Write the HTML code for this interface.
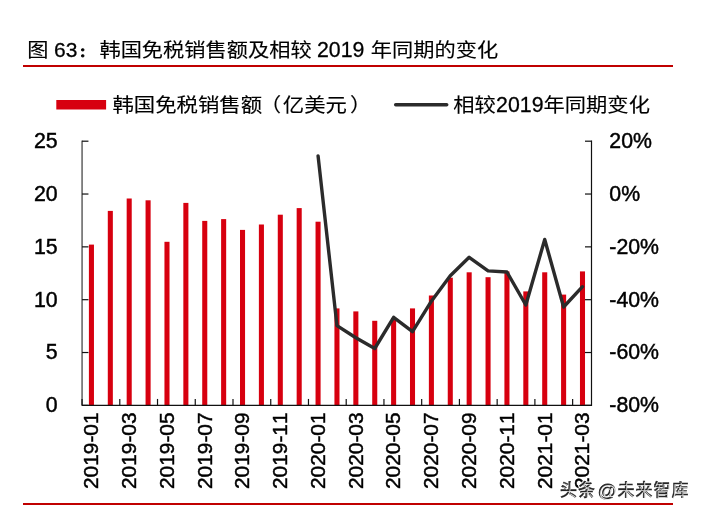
<!DOCTYPE html>
<html lang="zh"><head><meta charset="utf-8"><title>图 63</title>
<style>
html,body{margin:0;padding:0;background:#fff;}
body{width:702px;height:513px;overflow:hidden;position:relative;font-family:"Liberation Sans","Noto Sans CJK SC",sans-serif;color:#000;}
svg{position:absolute;left:0;top:0;display:block;}
text{font-family:"Liberation Sans","Noto Sans CJK SC",sans-serif;fill:#000;font-kerning:none;}
.num{stroke:#000;stroke-width:0.45px;}
.num2{stroke:#000;stroke-width:0.28px;}
.cjk{stroke:#000;stroke-width:0.15px;}
</style></head><body>
<svg width="702" height="513" viewBox="0 0 702 513">
<rect width="702" height="513" fill="#fff"/>
<text class="cjk" transform="translate(27.2,57.2) scale(1,0.9)" font-size="21.25">图</text>
<text class="num2" x="54.0" y="56.5" font-size="21.0">63</text>
<text transform="translate(79.3,57.4) scale(1,0.88)" font-size="14" font-weight="700" stroke="#000" stroke-width="0.9">：</text>
<text class="cjk" transform="translate(99.4,57.2) scale(1,0.9)" font-size="21.25">韩国免税销售额及相较</text>
<text class="num2" x="317.0" y="56.5" font-size="21.3">2019</text>
<text class="cjk" transform="translate(370.7,57.2) scale(1,0.9)" font-size="21.25">年同期的变化</text>
<rect x="23" y="65" width="650" height="2" fill="#c00000"/>
<rect x="23" y="503" width="650" height="2" fill="#c00000"/>
<rect x="56.3" y="100" width="49.8" height="9.5" fill="#d7000f"/>
<text class="cjk" transform="translate(112.4,112.3) scale(1,0.9)" font-size="21.4">韩国免税销售额<tspan dx="-2.4">（</tspan><tspan dx="1.7">亿美元</tspan><tspan dx="3.0">）</tspan></text>
<line x1="395.7" y1="104.65" x2="446.7" y2="104.65" stroke="#2b2b2b" stroke-width="3.5" stroke-linecap="round"/>
<text class="cjk" transform="translate(453.3,112.3) scale(1,0.9)" font-size="21.3">相较</text>
<text class="num2" x="496.1" y="112.4" font-size="21.3">2019</text>
<text class="cjk" transform="translate(543.5,112.3) scale(1,0.9)" font-size="21.3">年同期变化</text>
<g fill="#d7000f">
<rect x="88.90" y="244.6" width="5.06" height="160.8"/>
<rect x="107.79" y="210.9" width="5.06" height="194.5"/>
<rect x="126.67" y="198.5" width="5.06" height="206.9"/>
<rect x="145.56" y="200.3" width="5.06" height="205.1"/>
<rect x="164.45" y="241.8" width="5.06" height="163.6"/>
<rect x="183.34" y="202.9" width="5.06" height="202.5"/>
<rect x="202.22" y="220.9" width="5.06" height="184.5"/>
<rect x="221.11" y="219.1" width="5.06" height="186.3"/>
<rect x="240.00" y="229.9" width="5.06" height="175.5"/>
<rect x="258.88" y="224.5" width="5.06" height="180.9"/>
<rect x="277.77" y="214.7" width="5.06" height="190.7"/>
<rect x="296.66" y="208.1" width="5.06" height="197.3"/>
<rect x="315.54" y="221.7" width="5.06" height="183.7"/>
<rect x="334.43" y="308.4" width="5.06" height="97.0"/>
<rect x="353.32" y="311.4" width="5.06" height="94.0"/>
<rect x="372.21" y="320.8" width="5.06" height="84.6"/>
<rect x="391.09" y="318.0" width="5.06" height="87.4"/>
<rect x="409.98" y="308.4" width="5.06" height="97.0"/>
<rect x="428.87" y="295.5" width="5.06" height="109.9"/>
<rect x="447.75" y="277.7" width="5.06" height="127.7"/>
<rect x="466.64" y="272.3" width="5.06" height="133.1"/>
<rect x="485.53" y="277.2" width="5.06" height="128.2"/>
<rect x="504.41" y="271.5" width="5.06" height="133.9"/>
<rect x="523.30" y="291.4" width="5.06" height="114.0"/>
<rect x="542.19" y="272.3" width="5.06" height="133.1"/>
<rect x="561.08" y="294.6" width="5.06" height="110.8"/>
<rect x="579.96" y="271.4" width="5.06" height="134.0"/>
</g>
<g stroke="#111" stroke-width="1.2" fill="none">
<line x1="82.05" y1="140.6" x2="82.05" y2="405.95000000000005" stroke-width="1.0"/>
<line x1="591.5" y1="140.6" x2="591.5" y2="405.95000000000005"/>
<line x1="82.05" y1="405.35" x2="591.5" y2="405.35"/>
<line x1="82.05" y1="405.35" x2="88.45" y2="405.35"/>
<line x1="585.0" y1="405.35" x2="591.5" y2="405.35"/>
<line x1="82.05" y1="352.52" x2="88.45" y2="352.52"/>
<line x1="585.0" y1="352.52" x2="591.5" y2="352.52"/>
<line x1="82.05" y1="299.69" x2="88.45" y2="299.69"/>
<line x1="585.0" y1="299.69" x2="591.5" y2="299.69"/>
<line x1="82.05" y1="246.86" x2="88.45" y2="246.86"/>
<line x1="585.0" y1="246.86" x2="591.5" y2="246.86"/>
<line x1="82.05" y1="194.03" x2="88.45" y2="194.03"/>
<line x1="585.0" y1="194.03" x2="591.5" y2="194.03"/>
<line x1="82.05" y1="141.20" x2="88.45" y2="141.20"/>
<line x1="585.0" y1="141.20" x2="591.5" y2="141.20"/>
<line x1="82.05" y1="398.95000000000005" x2="82.05" y2="405.35"/>
<line x1="119.79" y1="398.95000000000005" x2="119.79" y2="405.35"/>
<line x1="157.52" y1="398.95000000000005" x2="157.52" y2="405.35"/>
<line x1="195.26" y1="398.95000000000005" x2="195.26" y2="405.35"/>
<line x1="233.00" y1="398.95000000000005" x2="233.00" y2="405.35"/>
<line x1="270.74" y1="398.95000000000005" x2="270.74" y2="405.35"/>
<line x1="308.47" y1="398.95000000000005" x2="308.47" y2="405.35"/>
<line x1="346.21" y1="398.95000000000005" x2="346.21" y2="405.35"/>
<line x1="383.95" y1="398.95000000000005" x2="383.95" y2="405.35"/>
<line x1="421.68" y1="398.95000000000005" x2="421.68" y2="405.35"/>
<line x1="459.42" y1="398.95000000000005" x2="459.42" y2="405.35"/>
<line x1="497.16" y1="398.95000000000005" x2="497.16" y2="405.35"/>
<line x1="534.89" y1="398.95000000000005" x2="534.89" y2="405.35"/>
<line x1="572.63" y1="398.95000000000005" x2="572.63" y2="405.35"/>
</g>
<text class="num" x="57.6" y="412.25" font-size="21.3" text-anchor="end">0</text>
<text class="num" x="57.6" y="359.42" font-size="21.3" text-anchor="end">5</text>
<text class="num" x="57.6" y="306.59" font-size="21.3" text-anchor="end">10</text>
<text class="num" x="57.6" y="253.76" font-size="21.3" text-anchor="end">15</text>
<text class="num" x="57.6" y="200.93" font-size="21.3" text-anchor="end">20</text>
<text class="num" x="57.6" y="148.10" font-size="21.3" text-anchor="end">25</text>
<text class="num" x="609.3" y="412.25" font-size="21.3">-80%</text>
<text class="num" x="609.3" y="359.42" font-size="21.3">-60%</text>
<text class="num" x="609.3" y="306.59" font-size="21.3">-40%</text>
<text class="num" x="609.3" y="253.76" font-size="21.3">-20%</text>
<text class="num" x="609.3" y="200.93" font-size="21.3">0%</text>
<text class="num" x="609.3" y="148.10" font-size="21.3">20%</text>
<text class="num" transform="translate(98.23,412.4) rotate(-90)" font-size="20.9" text-anchor="end">2019-01</text>
<text class="num" transform="translate(136.00,412.4) rotate(-90)" font-size="20.9" text-anchor="end">2019-03</text>
<text class="num" transform="translate(173.78,412.4) rotate(-90)" font-size="20.9" text-anchor="end">2019-05</text>
<text class="num" transform="translate(211.55,412.4) rotate(-90)" font-size="20.9" text-anchor="end">2019-07</text>
<text class="num" transform="translate(249.33,412.4) rotate(-90)" font-size="20.9" text-anchor="end">2019-09</text>
<text class="num" transform="translate(287.10,412.4) rotate(-90)" font-size="20.9" text-anchor="end">2019-11</text>
<text class="num" transform="translate(324.87,412.4) rotate(-90)" font-size="20.9" text-anchor="end">2020-01</text>
<text class="num" transform="translate(362.65,412.4) rotate(-90)" font-size="20.9" text-anchor="end">2020-03</text>
<text class="num" transform="translate(400.42,412.4) rotate(-90)" font-size="20.9" text-anchor="end">2020-05</text>
<text class="num" transform="translate(438.20,412.4) rotate(-90)" font-size="20.9" text-anchor="end">2020-07</text>
<text class="num" transform="translate(475.97,412.4) rotate(-90)" font-size="20.9" text-anchor="end">2020-09</text>
<text class="num" transform="translate(513.74,412.4) rotate(-90)" font-size="20.9" text-anchor="end">2020-11</text>
<text class="num" transform="translate(551.52,412.4) rotate(-90)" font-size="20.9" text-anchor="end">2021-01</text>
<text class="num" transform="translate(589.29,412.4) rotate(-90)" font-size="20.9" text-anchor="end">2021-03</text>
<polyline points="318.07,155.9 336.96,325.6 355.85,337.7 374.74,348.5 393.62,317.3 412.51,331.6 431.40,301.2 450.28,275.8 469.17,257.3 488.06,270.9 506.94,272.0 525.83,305.0 544.72,239.5 563.61,307.0 582.49,286.7" fill="none" stroke="#2b2b2b" stroke-width="3.4" stroke-linejoin="round" stroke-linecap="round"/>
<g font-size="17" font-weight="500" letter-spacing="1" stroke="#fff" stroke-width="2.4" stroke-linejoin="round" style="fill:#fff"><text style="fill:#fff" x="560" y="496">头条</text><text style="fill:#fff" x="597.8" y="496.5" font-size="18.5">@</text><text style="fill:#fff" x="617.5" y="496">未来智库</text></g>
<g font-size="17" font-weight="500" letter-spacing="1" stroke="#262626" stroke-width="0.45"><text style="fill:#262626" x="560" y="496">头条</text><text style="fill:#262626" x="597.8" y="496.5" font-size="18.5" stroke-width="0.9">@</text><text style="fill:#262626" x="617.5" y="496">未来智库</text></g>
<g font-size="17" font-weight="300" letter-spacing="1" opacity="0.8" transform="translate(0.8,1.0)"><text style="fill:#fff" x="560" y="496">头条</text><text style="fill:#fff" x="597.8" y="496.5" font-size="18.5">@</text><text style="fill:#fff" x="617.5" y="496">未来智库</text></g>
</svg>
</body></html>
